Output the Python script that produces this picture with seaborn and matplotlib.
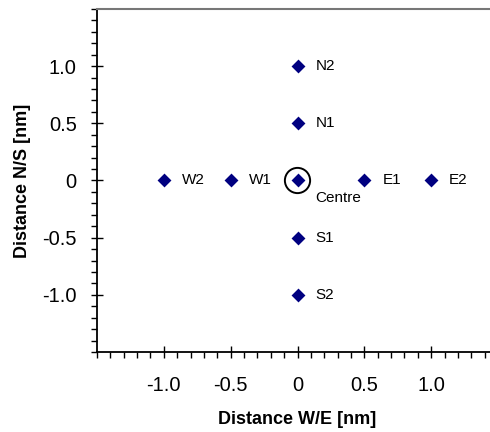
import matplotlib
matplotlib.use("Agg")
import matplotlib.pyplot as plt
import seaborn as sns
import pandas as pd
from matplotlib.ticker import MultipleLocator, FixedLocator, FuncFormatter

names = ["Centre", "N1", "N2", "S1", "S2", "E1", "E2", "W1", "W2"]
x_we = [0.0, 0.0, 0.0, 0.0, 0.0, 0.5, 1.0, -0.5, -1.0]
y_ns = [0.0, 0.5, 1.0, -0.5, -1.0, 0.0, 0.0, 0.0, 0.0]
major_ticks = [-1.0, -0.5, 0.0, 0.5, 1.0]

sns.set_theme(style="white")
plt.rcParams['font.family'] = ['Liberation Sans', 'DejaVu Sans']
plt.rcParams['axes.unicode_minus'] = False
plt.rcParams['text.color'] = 'black'
plt.rcParams['axes.labelcolor'] = 'black'
plt.rcParams['xtick.color'] = 'black'
plt.rcParams['ytick.color'] = 'black'

df = pd.DataFrame({"name": names, "x": x_we, "y": y_ns})

fig = plt.figure(figsize=(4.9, 4.32), dpi=100)
ax = fig.add_axes([97/490, 1-352/432, 401/490, 343/432])
sns.scatterplot(data=df, x="x", y="y", marker="D", color="#000080", s=50,
                edgecolor="#000080", linewidth=0, ax=ax, zorder=3, clip_on=False)

for n, xv, yv in zip(names, x_we, y_ns):
    if n == "Centre":
        ax.annotate(n, (xv, yv), xytext=(13, -18), textcoords="offset points",
                    fontsize=11, va="bottom", ha="left")
    else:
        ax.annotate(n, (xv, yv), xytext=(13, 0), textcoords="offset points",
                    fontsize=11, va="center", ha="left")

ax.scatter([0], [0], s=330, facecolors="none", edgecolors="black", linewidths=1.4, zorder=2)

ax.set_xlim(-1.5, 1.5)
ax.set_ylim(-1.5, 1.5)
fmt = FuncFormatter(lambda v, p: "0" if abs(v) < 1e-9 else f"{v:.1f}")
ax.xaxis.set_major_locator(FixedLocator(major_ticks))
ax.yaxis.set_major_locator(FixedLocator(major_ticks))
ax.xaxis.set_minor_locator(MultipleLocator(0.1))
ax.yaxis.set_minor_locator(MultipleLocator(0.1))
ax.xaxis.set_major_formatter(fmt)
ax.yaxis.set_major_formatter(fmt)
ax.tick_params(which="major", direction="inout", length=9, width=1.0, color="black",
               labelsize=14.5, bottom=True, left=True)
ax.tick_params(axis="x", which="major", pad=13)
ax.tick_params(axis="y", which="major", pad=10)
ax.tick_params(which="minor", direction="out", length=4, width=1.0, color="black",
               bottom=True, left=True)

for s in ["left", "bottom"]:
    ax.spines[s].set_color("black")
    ax.spines[s].set_linewidth(1.3)
ax.spines["right"].set_visible(False)
ax.spines["top"].set_color("#777777")
ax.spines["top"].set_linewidth(1.5)

ax.set_xlabel("Distance W/E [nm]", fontsize=13, fontweight="bold", labelpad=11)
ax.set_ylabel("Distance N/S [nm]", fontsize=13, fontweight="bold", labelpad=8)

fig.savefig("out.png", dpi=100)
